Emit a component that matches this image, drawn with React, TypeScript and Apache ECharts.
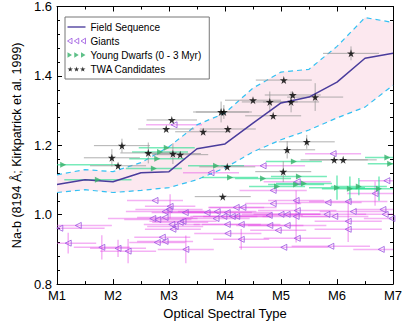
import React, { useEffect, useRef } from 'react';
import * as echarts from 'echarts';

// Field sequence (mean and spread), sampled at half subtypes
const spectralTypes = [1, 1.5, 2, 2.5, 3, 3.5, 4, 4.5, 5, 5.5, 6, 6.5, 7];
const fieldMean = [1.087, 1.101, 1.095, 1.121, 1.124, 1.19, 1.204, 1.264, 1.322, 1.339, 1.382, 1.451, 1.465];
const fieldUpper = [1.115, 1.13, 1.124, 1.15, 1.196, 1.259, 1.293, 1.365, 1.411, 1.419, 1.485, 1.568, 1.554];
const fieldLower = [1.064, 1.072, 1.064, 1.07, 1.078, 1.101, 1.135, 1.181, 1.216, 1.244, 1.279, 1.31, 1.373];

const xTickLabels = ['M1', 'M2', 'M3', 'M4', 'M5', 'M6', 'M7'];

// [spectral type (M-subclass), Na-b index, spt error, Na-b error]
const giants = [
  [2.75, 1.041, 0.5, 0], [3.02, 1.024, 0.45, 0.035], [3.0, 1.015, 0.6, 0], [2.93, 1.009, 0.7, 0],
  [3.29, 1.006, 0.6, 0], [3.68, 1.006, 0.8, 0], [3.86, 1.009, 0.7, 0], [2.71, 0.989, 0.8, 0],
  [2.8, 0.986, 0.6, 0], [2.93, 0.992, 0.5, 0], [3.84, 0.989, 0.6, 0], [1.05, 0.961, 0.8, 0],
  [1.38, 0.969, 0.6, 0], [3.05, 0.972, 0.5, 0], [3.2, 0.978, 0.5, 0], [3.25, 0.981, 0.6, 0],
  [3.11, 0.966, 0.5, 0], [3.07, 0.958, 0.5, 0], [4.04, 0.972, 0.6, 0], [2.88, 0.935, 0.5, 0],
  [2.79, 0.92, 0.5, 0], [2.93, 0.923, 0.5, 0], [1.2, 0.918, 0.5, 0.03], [1.8, 0.906, 0.5, 0.035],
  [2.09, 0.903, 0.5, 0.025], [2.27, 0.895, 0.5, 0.035], [3.3, 0.9, 0.5, 0.04], [3.09, 1.259, 0.5, 0],
  [3.75, 1.121, 0.5, 0], [5.93, 1.176, 0.5, 0], [4.68, 1.141, 0.75, 0], [5.29, 1.095, 0.6, 0],
  [6.89, 1.098, 0.5, 0], [6.68, 1.061, 0.5, 0.035], [4.86, 1.07, 0.6, 0], [5.27, 1.041, 0.5, 0],
  [5.84, 1.035, 0.6, 0], [6.2, 1.038, 0.7, 0], [4.86, 1.032, 0.5, 0], [4.2, 1.021, 0.5, 0],
  [4.32, 1.021, 0.6, 0], [4.04, 1.006, 0.8, 0], [5.29, 1.012, 0.7, 0], [6.29, 1.009, 0.6, 0],
  [6.82, 1.015, 0.5, 0], [6.86, 1.001, 0.5, 0], [6.98, 0.989, 0.5, 0], [3.98, 0.995, 0.6, 0],
  [4.13, 0.995, 0.7, 0], [4.21, 0.995, 0.6, 0], [4.79, 0.998, 0.6, 0], [5.0, 1.001, 0.7, 0],
  [5.11, 1.001, 0.6, 0], [5.27, 0.995, 0.6, 0.075], [5.82, 1.001, 0.7, 0], [5.96, 0.995, 0.6, 0],
  [4.29, 0.972, 0.7, 0], [4.8, 0.969, 0.6, 0], [5.11, 0.969, 0.7, 0], [6.2, 0.981, 0.6, 0.06],
  [6.2, 0.958, 0.6, 0], [4.95, 0.955, 0.5, 0], [4.05, 0.946, 0.6, 0], [4.29, 0.929, 0.5, 0.03],
  [5.29, 0.932, 0.6, 0], [5.05, 0.906, 0.8, 0], [5.89, 0.909, 0.7, 0], [6.79, 0.9, 0.5, 0],
];

const youngDwarfs = [
  [1.11, 1.144, 1.0, 0], [1.73, 1.101, 0.6, 0], [2.79, 1.161, 0.5, 0], [2.84, 1.181, 0.5, 0],
  [2.96, 1.193, 0.5, 0], [2.73, 1.133, 0.5, 0], [3.84, 1.141, 0.5, 0], [5.23, 1.153, 0.5, 0],
  [4.09, 1.107, 0.5, 0], [4.68, 1.104, 0.5, 0], [5.32, 1.11, 0.5, 0], [4.93, 1.081, 0.5, 0],
  [5.27, 1.087, 0.5, 0], [5.41, 1.09, 0.5, 0], [6.0, 1.078, 0.5, 0.035], [6.23, 1.075, 0.5, 0.035],
  [6.39, 1.081, 0.5, 0.025], [6.75, 1.075, 0.5, 0.035], [6.9, 1.165, 0.4, 0], [6.95, 1.147, 0.4, 0],
];

const twaCandidates = [
  [2.16, 1.199, 0.5, 0.02], [1.98, 1.164, 0.5, 0.025], [2.09, 1.141, 0.5, 0], [2.63, 1.178, 0.5, 0.03],
  [3.05, 1.273, 0.45, 0], [2.95, 1.247, 0.5, 0], [3.07, 1.176, 0.5, 0.03], [3.2, 1.173, 0.5, 0],
  [3.61, 1.239, 0.5, 0], [3.93, 1.296, 0.5, 0.03], [3.98, 1.296, 0.5, 0.02], [4.05, 1.247, 0.5, 0],
  [4.04, 1.138, 0.5, 0], [3.96, 1.052, 0.5, 0], [4.5, 1.33, 0.5, 0], [4.8, 1.325, 0.5, 0.03],
  [5.05, 1.388, 0.5, 0], [5.18, 1.325, 0.5, 0.03], [5.21, 1.345, 0.5, 0], [5.61, 1.339, 0.5, 0.04],
  [4.86, 1.285, 0.5, 0], [5.11, 1.187, 0.5, 0.025], [5.46, 1.21, 0.5, 0.02], [5.04, 1.124, 0.5, 0.03],
  [5.95, 1.158, 0.6, 0], [6.11, 1.158, 0.6, 0], [6.25, 1.465, 0.5, 0.02],
];

const FONT = '"Liberation Sans", Arial, Helvetica, sans-serif';
const STAR = 'path://M50,0L61,35L98,35L68,57L79,91L50,70L21,91L32,57L2,35L39,35Z';
const STAR3 =
  'path://M50,0L61,35L98,35L68,57L79,91L50,70L21,91L32,57L2,35L39,35Z' +
  'M160,0L171,35L208,35L178,57L189,91L160,70L131,91L142,57L112,35L149,35Z' +
  'M270,0L281,35L318,35L288,57L299,91L270,70L241,91L252,57L222,35L259,35Z';
const LEFT3 = 'path://M0,5L8,0L8,10ZM12,5L20,0L20,10ZM24,5L32,0L32,10Z';
const RIGHT3 = 'path://M0,0L8,5L0,10ZM12,0L20,5L12,10ZM24,0L32,5L24,10Z';
const LINE_ICON = 'path://M0,0L24,0L24,1.8L0,1.8Z';

const FIELD_COLOR = '#4a3c9c';
const GIANT_EDGE = '#9b55e0';
const YOUNG_FILL = '#36b06a';
const BAND_EDGE = '#33c0f2';

function errorBars(name: string, data: number[][], color: string, width: number, z: number) {
  return {
    type: 'custom',
    name,
    data,
    z,
    silent: true,
    clip: true,
    encode: { x: 0, y: 1 },
    renderItem: (params: any, api: any) => {
      const x = api.value(0);
      const y = api.value(1);
      const xe = api.value(2);
      const ye = api.value(3);
      const cs = params.coordSys;
      const cx = (v: number) => Math.max(cs.x, Math.min(cs.x + cs.width, v));
      const cy = (v: number) => Math.max(cs.y, Math.min(cs.y + cs.height, v));
      const a = api.coord([x - xe, y]);
      const b = api.coord([x + xe, y]);
      const children: any[] = [
        {
          type: 'line',
          shape: { x1: cx(a[0]), y1: a[1], x2: cx(b[0]), y2: b[1] },
          style: { stroke: color, lineWidth: width },
        },
      ];
      if (ye > 0) {
        const c = api.coord([x, y - ye]);
        const d = api.coord([x, y + ye]);
        children.push({
          type: 'line',
          shape: { x1: c[0], y1: cy(c[1]), x2: d[0], y2: cy(d[1]) },
          style: { stroke: color, lineWidth: width },
        });
      }
      return { type: 'group', children };
    },
  };
}

export default function App() {
  const ref = useRef<HTMLDivElement>(null);
  useEffect(() => {
    if (!ref.current) return;
    const chart = echarts.init(ref.current, undefined, { renderer: 'svg' });
    const tickCommon = {
      axisLine: { show: true, lineStyle: { color: '#000', width: 1 } },
      axisTick: { show: true, inside: true, length: 5, lineStyle: { color: '#000' } },
      splitLine: { show: false },
    };
    const option: any = {
      animation: false,
      backgroundColor: '#fff',
      grid: { left: 57, right: 13, top: 6, bottom: 40, containLabel: false },
      legend: {
        orient: 'vertical',
        left: 65,
        top: 17,
        padding: [5, 8, 5, 2],
        itemGap: 4,
        itemWidth: 18,
        itemHeight: 6,
        symbolKeepAspect: true,
        backgroundColor: '#fff',
        borderColor: '#777',
        borderWidth: 1,
        textStyle: { fontSize: 10, fontFamily: FONT, color: '#000' },
        data: [
          { name: 'Field Sequence', icon: LINE_ICON, itemStyle: { color: FIELD_COLOR } },
          {
            name: 'Giants',
            icon: LEFT3,
            itemStyle: { color: 'rgba(255,255,255,0)', borderColor: GIANT_EDGE, borderWidth: 1 },
          },
          { name: 'Young Dwarfs (0 - 3 Myr)', icon: RIGHT3, itemStyle: { color: YOUNG_FILL } },
          { name: 'TWA Candidates', icon: STAR3, itemStyle: { color: '#000' } },
        ],
      },
      xAxis: [
        {
          type: 'value',
          min: 1,
          max: 7,
          interval: 1,
          position: 'bottom',
          ...tickCommon,
          minorTick: { show: true, splitNumber: 2, length: 3, lineStyle: { color: '#000' } },
          axisLabel: {
            formatter: (v: number) => xTickLabels[Math.round(v) - 1],
            color: '#000',
            fontSize: 13,
            fontFamily: FONT,
            margin: 5,
          },
          name: 'Optical Spectral Type',
          nameLocation: 'middle',
          nameGap: 19,
          nameTextStyle: { fontSize: 13, fontFamily: FONT, color: '#000' },
        },
        {
          type: 'value',
          min: 1,
          max: 7,
          interval: 1,
          position: 'top',
          ...tickCommon,
          minorTick: { show: true, splitNumber: 2, length: 3, lineStyle: { color: '#000' } },
          axisLabel: { show: false },
        },
      ],
      yAxis: [
        {
          type: 'value',
          min: 0.8,
          max: 1.6,
          interval: 0.2,
          position: 'left',
          ...tickCommon,
          minorTick: { show: true, splitNumber: 5, length: 3, lineStyle: { color: '#000' } },
          axisLabel: {
            formatter: (v: number) => v.toFixed(1),
            color: '#000',
            fontSize: 13,
            fontFamily: FONT,
            margin: 5,
          },
          name: 'Na-b (8194 Å; Kirkpatrick et al. 1999)',
          nameLocation: 'middle',
          nameGap: 33,
          nameTextStyle: { fontSize: 12.5, fontFamily: FONT, color: '#000' },
        },
        {
          type: 'value',
          min: 0.8,
          max: 1.6,
          interval: 0.2,
          position: 'right',
          ...tickCommon,
          minorTick: { show: true, splitNumber: 5, length: 3, lineStyle: { color: '#000' } },
          axisLabel: { show: false },
        },
      ],
      series: [
        {
          type: 'custom',
          name: 'band',
          data: [[spectralTypes[0], fieldMean[0]]],
          encode: { x: 0, y: 1 },
          silent: true,
          z: 1,
          renderItem: (_params: any, api: any) => {
            const top = spectralTypes.map((s, i) => api.coord([s, fieldUpper[i]]));
            const bottom = spectralTypes.map((s, i) => api.coord([s, fieldLower[i]])).reverse();
            return {
              type: 'polygon',
              shape: { points: top.concat(bottom) },
              style: { fill: '#fce8ef', stroke: 'none' },
            };
          },
        },
        {
          type: 'line',
          name: 'lower',
          data: spectralTypes.map((s, i) => [s, fieldLower[i]]),
          showSymbol: false,
          symbol: 'none',
          lineStyle: { color: BAND_EDGE, width: 1.2, type: [5, 4] },
          z: 2,
        },
        {
          type: 'line',
          name: 'upper',
          data: spectralTypes.map((s, i) => [s, fieldUpper[i]]),
          showSymbol: false,
          symbol: 'none',
          lineStyle: { color: BAND_EDGE, width: 1.2, type: [5, 4] },
          z: 2,
        },
        errorBars('giantErr', giants, 'rgba(228, 70, 228, 0.42)', 1.5, 2),
        errorBars('youngErr', youngDwarfs, 'rgba(30, 222, 140, 0.6)', 1.5, 3),
        errorBars('twaErr', twaCandidates, 'rgba(150, 150, 150, 0.75)', 1, 3),
        {
          type: 'line',
          name: 'Field Sequence',
          data: spectralTypes.map((s, i) => [s, fieldMean[i]]),
          showSymbol: false,
          symbol: 'none',
          lineStyle: { color: FIELD_COLOR, width: 1.5 },
          itemStyle: { color: FIELD_COLOR },
          z: 4,
        },
        {
          type: 'scatter',
          name: 'Giants',
          data: giants.map((d) => [d[0], d[1]]),
          symbol: 'triangle',
          symbolRotate: 90,
          symbolSize: 6,
          itemStyle: { color: 'rgba(255,255,255,0)', borderColor: GIANT_EDGE, borderWidth: 1 },
          z: 5,
        },
        {
          type: 'scatter',
          name: 'Young Dwarfs (0 - 3 Myr)',
          data: youngDwarfs.map((d) => [d[0], d[1]]),
          symbol: 'triangle',
          symbolRotate: -90,
          symbolSize: 6,
          itemStyle: { color: YOUNG_FILL },
          z: 5,
        },
        {
          type: 'scatter',
          name: 'TWA Candidates',
          data: twaCandidates.map((d) => [d[0], d[1]]),
          symbol: STAR,
          symbolSize: 8,
          itemStyle: { color: '#000' },
          z: 6,
        },
      ],
    };
    chart.setOption(option);
    return () => chart.dispose();
  }, []);
  return (
    <div
      ref={ref}
      style={{ position: 'fixed', left: 0, top: 0, width: 406, height: 325, background: '#fff' }}
    />
  );
}
